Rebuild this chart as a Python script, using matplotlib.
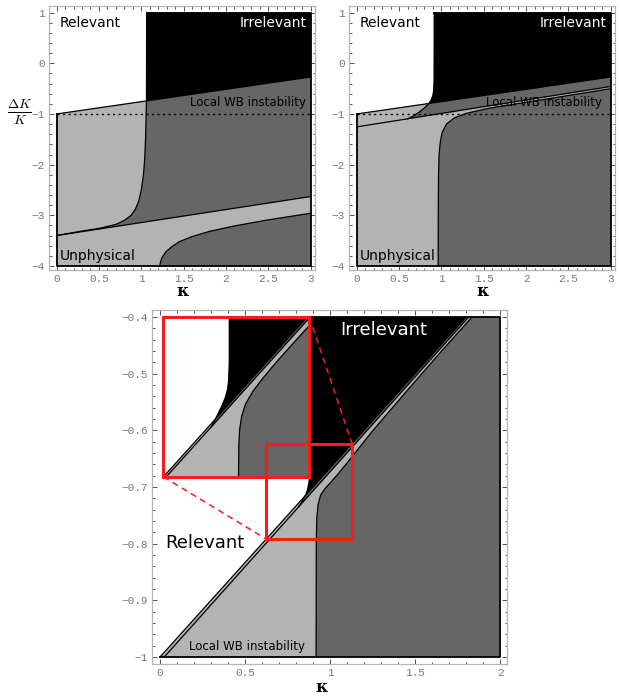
import numpy as np
import matplotlib.pyplot as plt
from matplotlib.ticker import MultipleLocator, FuncFormatter
from matplotlib.patches import Rectangle

plt.rcParams['mathtext.fontset'] = 'cm'

LIGHT = '#b3b3b3'
DARK = '#666666'
RED = '#ff1a1a'

# ---------------- top-left panel ----------------
a_klim = [0, 3]
a_ylim = [-4, 1]
a_upper_k = [0, 3]
a_upper_y = [-1.0, -0.27]
a_lower_k = [0, 3]
a_lower_y = [-3.40, -2.63]
a_bound_k = [1.063, 1.061, 1.057, 1.05, 1.04, 1.025, 1.0, 0.97, 0.93, 0.88, 0.8, 0.7, 0.5, 0.3, 0.0]
a_bound_y = [1.0, -0.72, -1.0, -1.5, -1.9, -2.2, -2.5, -2.72, -2.88, -3.0, -3.1, -3.18, -3.26, -3.31, -3.40]
a_unphys_k = [1.215, 1.24, 1.29, 1.36, 1.45, 1.6, 1.8, 2.1, 2.5, 3.0]
a_unphys_y = [-4.0, -3.85, -3.72, -3.62, -3.52, -3.42, -3.32, -3.21, -3.09, -2.96]

# ---------------- top-right panel ----------------
b_klim = [0, 3]
b_ylim = [-4, 1]
b_upper_k = [0, 3]
b_upper_y = [-1.0, -0.27]
b_lower_k = [0, 3]
b_lower_y = [-1.255, -0.457]
b_bound_k = [0.915, 0.914, 0.91, 0.90, 0.88, 0.85, 0.80, 0.74, 0.67, 0.60]
b_bound_y = [1.0, -0.30, -0.52, -0.63, -0.72, -0.80, -0.88, -0.96, -1.04, -1.095]
b_unphys_k = [0.962, 0.963, 0.966, 0.973, 0.987, 1.01, 1.06, 1.15, 1.3, 1.55, 2.0, 2.5, 3.0]
b_unphys_y = [-4.0, -3.0, -2.2, -1.8, -1.55, -1.36, -1.20, -1.08, -0.985, -0.89, -0.77, -0.635, -0.50]

# ---------------- bottom panel ----------------
c_klim = [0, 2]
c_ylim = [-1, -0.4]
c_upper_k = [0, 1.80]
c_upper_y = [-1.0, -0.4]
c_lower_k = [0.025, 1.815]
c_lower_y = [-1.0, -0.4]
c_bound_k = [0.886, 0.885, 0.882, 0.876, 0.867, 0.858, 0.845, 0.83, 0.815]
c_bound_y = [-0.4, -0.62, -0.668, -0.692, -0.705, -0.713, -0.72, -0.728, -0.7352]
c_unphys_k = [0.918, 0.919, 0.922, 0.93, 0.945, 0.97, 1.0, 1.05, 1.12, 1.25, 1.45, 1.65, 1.835]
c_unphys_y = [-1.0, -0.80, -0.755, -0.73, -0.714, -0.703, -0.693, -0.676, -0.650, -0.601, -0.531, -0.462, -0.4]

# zoomed inset (small red box, magnified into the big red box)
zoom_k = [0.625, 1.13]
zoom_y = [-0.792, -0.624]
inset_k = [0.02, 0.878]
inset_y = [-0.682, -0.4]
i_upper_k = [0.625, 1.123]
i_upper_y = [-0.792, -0.624]
i_lower_k = [0.635, 1.133]
i_lower_y = [-0.792, -0.624]
i_bound_k = [0.853, 0.853, 0.851, 0.847, 0.84, 0.828, 0.812, 0.79]
i_bound_y = [-0.624, -0.67, -0.69, -0.70, -0.708, -0.717, -0.727, -0.7397]
i_unphys_k = [0.885, 0.886, 0.889, 0.896, 0.91, 0.935, 0.97, 1.02, 1.07, 1.13]
i_unphys_y = [-0.792, -0.758, -0.742, -0.728, -0.715, -0.702, -0.688, -0.670, -0.653, -0.633]


def draw_phase(ax, klim, ylim, upper_k, upper_y, lower_k, lower_y,
               bound_k, bound_y, unphys_k, unphys_y, outline=True):
    k0, k1 = klim
    y0, y1 = ylim
    # light gray below the upper line
    ax.fill(upper_k + [k1, k1, k0], upper_y + [upper_y[-1], y0, y0], color=LIGHT, lw=0)
    # right of the boundary curve, above the lower line
    right = ax.fill(bound_k + [lower_k[-1], k1], bound_y + [lower_y[-1], y1], color=DARK, lw=0)[0]
    # irrelevant: above upper line and right of boundary
    blk = ax.fill(upper_k + [k1, k1, k0], upper_y + [upper_y[-1], y1, y1], color='black', lw=0)[0]
    blk.set_clip_path(right)
    # lower-right dark region
    ax.fill(unphys_k + [k1, k1], unphys_y + [unphys_y[-1], y0], color=DARK, lw=0)
    for kk, yy in [(upper_k, upper_y), (lower_k, lower_y), (bound_k, bound_y), (unphys_k, unphys_y)]:
        ax.plot(kk, yy, color='black', lw=0.9)
    if outline:
        ax.plot([k0, k0, k1, k1, bound_k[0]], [upper_y[0], y0, y0, y1, y1], color='black', lw=1.3)


def fmt(v, pos):
    s = ('%.2f' % v).rstrip('0').rstrip('.')
    if s == '-0':
        s = '0'
    return s.replace('-', '\u2212')


def style(ax, xlim, ylim, xmaj, xmin, ymaj, ymin):
    ax.set_xlim(xlim)
    ax.set_ylim(ylim)
    for s in ax.spines.values():
        s.set_color('#b5b5b5')
        s.set_linewidth(0.9)
    ax.xaxis.set_major_locator(MultipleLocator(xmaj))
    ax.xaxis.set_minor_locator(MultipleLocator(xmin))
    ax.yaxis.set_major_locator(MultipleLocator(ymaj))
    ax.yaxis.set_minor_locator(MultipleLocator(ymin))
    ax.xaxis.set_major_formatter(FuncFormatter(fmt))
    ax.yaxis.set_major_formatter(FuncFormatter(fmt))
    ax.tick_params(which='both', direction='in', top=True, right=True, color='#333333',
                   width=0.6, labelsize=8, labelcolor='#777777', pad=3)
    ax.tick_params(which='major', length=3.5)
    ax.tick_params(which='minor', length=1.8)
    for lab in ax.get_xticklabels() + ax.get_yticklabels():
        lab.set_family('Liberation Mono')


fig = plt.figure(figsize=(6.2, 7.0), dpi=100)

# top-left
axa = fig.add_axes([0.079, 0.6143, 0.429, 0.377])
draw_phase(axa, a_klim, a_ylim, a_upper_k, a_upper_y, a_lower_k, a_lower_y,
           a_bound_k, a_bound_y, a_unphys_k, a_unphys_y)
axa.plot(a_klim, [-1, -1], color='black', lw=1.0, ls=(0, (1.5, 2.5)))
style(axa, (-0.09, 3.05), (-4.08, 1.13), 0.5, 0.1, 1, 0.2)
axa.text(0.04, 0.8, 'Relevant', fontsize=10, va='center', ha='left')
axa.text(2.95, 0.8, 'Irrelevant', fontsize=10, va='center', ha='right', color='white')
axa.text(2.95, -0.78, 'Local WB instability', fontsize=8.5, va='center', ha='right')
axa.text(0.04, -3.8, 'Unphysical', fontsize=10, va='center', ha='left')

# top-right
axb = fig.add_axes([0.563, 0.6143, 0.429, 0.377])
draw_phase(axb, b_klim, b_ylim, b_upper_k, b_upper_y, b_lower_k, b_lower_y,
           b_bound_k, b_bound_y, b_unphys_k, b_unphys_y)
axb.plot(b_klim, [-1, -1], color='black', lw=1.0, ls=(0, (1.5, 2.5)))
style(axb, (-0.09, 3.05), (-4.08, 1.13), 0.5, 0.1, 1, 0.2)
axb.text(0.04, 0.8, 'Relevant', fontsize=10, va='center', ha='left')
axb.text(2.95, 0.8, 'Irrelevant', fontsize=10, va='center', ha='right', color='white')
axb.text(2.9, -0.78, 'Local WB instability', fontsize=8.5, va='center', ha='right')
axb.text(0.04, -3.8, 'Unphysical', fontsize=10, va='center', ha='left')

# bottom
axc = fig.add_axes([0.2452, 0.0514, 0.5726, 0.5057])
draw_phase(axc, c_klim, c_ylim, c_upper_k, c_upper_y, c_lower_k, c_lower_y,
           c_bound_k, c_bound_y, c_unphys_k, c_unphys_y)
style(axc, (-0.047, 2.041), (-1.0124, -0.3876), 0.5, 0.1, 0.1, 0.02)
axc.text(1.06, -0.423, 'Irrelevant', fontsize=13, va='center', ha='left', color='white')
axc.text(0.03, -0.799, 'Relevant', fontsize=13, va='center', ha='left')
axc.text(0.17, -0.982, 'Local WB instability', fontsize=8.5, va='center', ha='left')

# inset magnifying the small red box
axi = axc.inset_axes([inset_k[0], inset_y[0], inset_k[1] - inset_k[0], inset_y[1] - inset_y[0]],
                     transform=axc.transData)
draw_phase(axi, zoom_k, zoom_y, i_upper_k, i_upper_y, i_lower_k, i_lower_y,
           i_bound_k, i_bound_y, i_unphys_k, i_unphys_y, outline=False)
axi.set_xlim(zoom_k)
axi.set_ylim(zoom_y)
axi.set_xticks([])
axi.set_yticks([])
for s in axi.spines.values():
    s.set_color(RED)
    s.set_linewidth(2.2)

axc.add_patch(Rectangle((zoom_k[0], zoom_y[0]), zoom_k[1] - zoom_k[0], zoom_y[1] - zoom_y[0],
                        fill=False, ec=RED, lw=2.2, zorder=6))
axc.plot([inset_k[1], zoom_k[1]], [inset_y[1], zoom_y[1]], color=RED, lw=1.1, ls=(0, (4, 3)), zorder=6)
axc.plot([inset_k[0], zoom_k[0]], [inset_y[0], zoom_y[0]], color=RED, lw=1.1, ls=(0, (4, 3)), zorder=6)

# axis labels
kfont = dict(family='DejaVu Serif', fontsize=12, fontweight='bold', ha='center', va='center')
fig.text(183 / 620, 1 - 292 / 700, '\u03ba', **kfont)
fig.text(483 / 620, 1 - 292 / 700, '\u03ba', **kfont)
fig.text(322 / 620, 1 - 688 / 700, '\u03ba', **kfont)
fig.text(20 / 620, 1 - 112 / 700, r'$\frac{\Delta K}{K}$', fontsize=14, ha='center', va='center')

fig.savefig('out.png', dpi=100)
